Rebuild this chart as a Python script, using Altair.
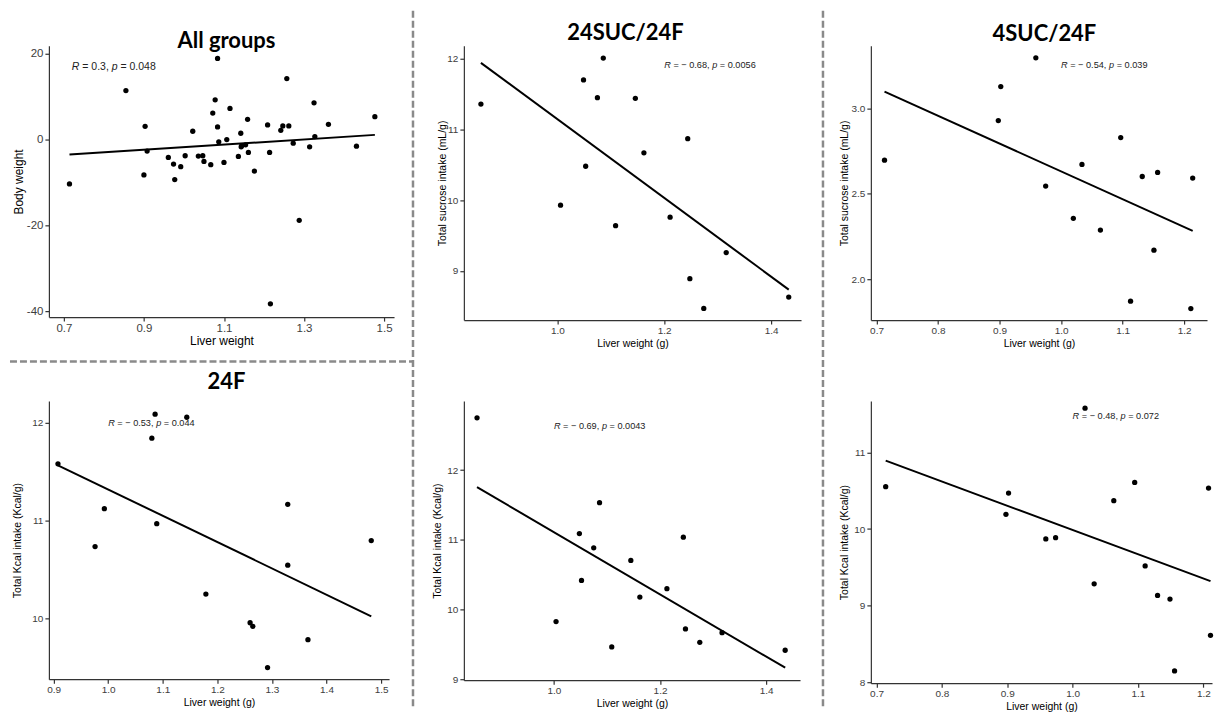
import altair as alt
import pandas as pd

FONT = "Liberation Sans"
TITLE_FONT = "Lato"

# ---------------- data ----------------
all_x = [0.714, 0.855, 0.903, 0.900, 0.908, 0.961, 0.974, 0.977, 0.992, 1.003, 1.022, 1.036, 1.047,
         1.050, 1.067, 1.072, 1.078, 1.084, 1.084, 1.087, 1.100, 1.107, 1.115, 1.136, 1.142, 1.143,
         1.144, 1.154, 1.159, 1.161, 1.176, 1.209, 1.214, 1.216, 1.242, 1.247, 1.257, 1.262, 1.273,
         1.288, 1.314, 1.325, 1.327, 1.361, 1.431, 1.477]
all_y = [-10.35, 11.43, 3.09, -8.26, -2.70, -4.17, -5.71, -9.34, -6.33, -3.78, 1.93, -3.86, -3.78,
         -5.10, -5.87, 6.18, 9.27, 18.92, 2.93, -0.54, -5.33, 0.00, 7.26, -3.94, 1.47, -1.70,
         -1.47, -1.24, 4.71, -3.01, -7.34, 3.40, -3.01, -38.30, 2.16, 3.17, 14.21, 3.17, -0.85,
         -18.84, -1.70, 8.57, 0.69, 3.55, -1.54, 5.33]

suc24_x = [0.857, 1.006, 1.049, 1.053, 1.075, 1.086, 1.109, 1.146, 1.162, 1.211, 1.244, 1.248, 1.274, 1.316, 1.433]
suc24_y = [11.36, 9.93, 11.70, 10.48, 11.45, 12.01, 9.64, 11.44, 10.67, 9.76, 10.87, 8.89, 8.47, 9.26, 8.63]

suc4_x = [0.713, 0.898, 0.902, 0.959, 0.975, 1.020, 1.034, 1.064, 1.097, 1.113, 1.132, 1.151, 1.157, 1.211, 1.214]
suc4_y = [2.698, 2.930, 3.129, 3.298, 2.546, 2.357, 2.673, 2.288, 2.830, 1.871, 2.602, 2.170, 2.626, 1.828, 2.593]

f24_x = [0.908, 0.976, 0.993, 1.080, 1.086, 1.089, 1.144, 1.179, 1.260, 1.265, 1.292, 1.329, 1.329, 1.366, 1.482]
f24_y = [11.578, 10.731, 11.119, 11.840, 12.085, 10.966, 12.054, 10.245, 9.952, 9.915, 9.493, 10.541, 11.163, 9.779, 10.793]

kcal24_x = [0.855, 1.004, 1.048, 1.052, 1.075, 1.086, 1.109, 1.145, 1.162, 1.213, 1.244, 1.248, 1.275, 1.317, 1.436]
kcal24_y = [12.748, 9.829, 11.090, 10.419, 10.886, 11.533, 9.467, 10.705, 10.181, 10.300, 11.038, 9.724, 9.533, 9.671, 9.419]

kcal4_x = [0.714, 0.898, 0.902, 0.959, 0.974, 1.019, 1.033, 1.063, 1.095, 1.111, 1.130, 1.149, 1.156, 1.208, 1.211]
kcal4_y = [10.553, 10.192, 10.470, 9.871, 9.888, 11.578, 9.285, 10.370, 10.609, 9.519, 9.133, 9.085, 8.147, 10.535, 8.612]

panel_titles = ["All groups", "24SUC/24F", "4SUC/24F", "24F", "", ""]
r_values = ["0.3", "\u2212 0.68", "\u2212 0.54", "\u2212 0.53", "\u2212 0.69", "\u2212 0.48"]
p_values = ["0.048", "0.0056", "0.039", "0.044", "0.0043", "0.072"]
label_pos = [(0.72, 17.0), (1.2, 11.91), (1.0, 3.256), (1.0, 12.0), (1.0, 12.63), (1.0, 11.47)]

x_titles = ["Liver weight", "Liver weight (g)", "Liver weight (g)", "Liver weight (g)", "Liver weight (g)", "Liver weight (g)"]
y_titles = ["Body weight", "Total sucrose intake (mL/g)", "Total sucrose intake (mL/g)",
            "Total Kcal intake (Kcal/g)", "Total Kcal intake (Kcal/g)", "Total Kcal intake (Kcal/g)"]

x_ticks = [[0.7, 0.9, 1.1, 1.3, 1.5], [1.0, 1.2, 1.4], [0.7, 0.8, 0.9, 1.0, 1.1, 1.2],
           [0.9, 1.0, 1.1, 1.2, 1.3, 1.4, 1.5], [1.0, 1.2, 1.4], [0.7, 0.8, 0.9, 1.0, 1.1, 1.2]]
y_ticks = [[-40, -20, 0, 20], [9, 10, 11, 12], [2.0, 2.5, 3.0], [10, 11, 12], [9, 10, 11, 12], [8, 9, 10, 11]]
y_formats = ["d", "d", ".1f", "d", "d", "d"]

x_domains = [[0.6626, 1.5249], [0.8251, 1.4560], [0.6908, 1.2373], [0.8914, 1.5146], [0.8302, 1.4640], [0.6913, 1.2133]]
y_domains = [[-41.40, 21.86], [8.3047, 12.1834], [1.7602, 3.3684], [9.3745, 12.2214], [8.99, 12.99], [7.9871, 11.6734]]

# ---------------- layout / style ----------------
sizes = [(346, 272), (338, 275), (337, 275), (341, 279), (337, 280), (342, 283)]
label_fs = [11.5, 10, 10, 10, 10, 10]
title_fs = [12, 10.5, 10.5, 10.5, 10.5, 10.5]
annot_fs = [10.5, 9.2, 9.2, 9.2, 9.2, 9.2]
ytitle_x = [-30, -21, -26, -31, -26, -26]
title_xy = [(178, -5), (162, -13), (174, -12), (178, -19), (0, 0), (0, 0)]

WIDTHS = {'R': .722, ' ': .278, '=': .584, '.': .278, ',': .278, 'p': .556, '\u2212': .584}
for d in "0123456789":
    WIDTHS[d] = .556


def tw(s, size):
    return sum(WIDTHS.get(c, .556) for c in s) * size


def annotation(pos, r, p, size):
    df = pd.DataFrame({"x": [pos[0]], "y": [pos[1]]})
    full = [("R", "italic"), (" ", None), ("= " + r + ",", "normal"), (" ", None),
            ("p", "italic"), (" ", None), ("= " + p, "normal")]
    layers = []
    off = 0.0
    for s, style in full:
        if style is not None:
            layers.append(
                alt.Chart(df).mark_text(text=s, align="left", baseline="middle", dx=off,
                                        fontStyle=style, font=FONT, fontSize=size, color="#222222")
                .encode(x="x:Q", y="y:Q"))
        off += tw(s, size)
    return layers


def panel(i, xs, ys):
    w, h = sizes[i]
    df = pd.DataFrame({"x": xs, "y": ys})
    xenc = alt.X("x:Q",
                 scale=alt.Scale(domain=x_domains[i], nice=False, zero=False),
                 axis=alt.Axis(values=x_ticks[i], format=".1f", title=x_titles[i], grid=False,
                               tickSize=4, labelPadding=1, labelFontSize=label_fs[i],
                               titleFontSize=title_fs[i], titleY=23, titleBaseline="middle"))
    yenc = alt.Y("y:Q",
                 scale=alt.Scale(domain=y_domains[i], nice=False, zero=False),
                 axis=alt.Axis(values=y_ticks[i], format=y_formats[i], title=y_titles[i], grid=False,
                               tickSize=4, labelPadding=2, labelFontSize=label_fs[i],
                               labelExpr="replace(datum.label, '\u2212', '-')",
                               titleFontSize=title_fs[i], titleX=ytitle_x[i], titleBaseline="middle"))
    pts = alt.Chart(df).mark_circle(size=28, color="black", opacity=1).encode(x=xenc, y=yenc)
    line = alt.Chart(df).transform_regression("x", "y").mark_line(color="black", strokeWidth=2).encode(
        x="x:Q", y="y:Q")
    layers = [line, pts] + annotation(label_pos[i], r_values[i], p_values[i], annot_fs[i])
    if panel_titles[i]:
        tx, ty = title_xy[i]
        layers.append(
            alt.Chart(pd.DataFrame({"t": [panel_titles[i]]})).mark_text(
                font=TITLE_FONT, fontSize=22, fontWeight="bold", align="center", baseline="middle",
                color="black").encode(text="t:N", x=alt.value(tx), y=alt.value(ty)))
    return layers, (w, h)


one = pd.DataFrame({"k": [0]})
dash = dict(color="#8a8a8a", strokeWidth=2.5, strokeDash=[7, 3])

charts = []
for i, (xs, ys) in enumerate([(all_x, all_y), (suc24_x, suc24_y), (suc4_x, suc4_y),
                              (f24_x, f24_y), (kcal24_x, kcal24_y), (kcal4_x, kcal4_y)]):
    layers, (w, h) = panel(i, xs, ys)
    if i == 0:
        layers.append(alt.Chart(one).mark_rule(**dash).encode(
            x=alt.value(-39), x2=alt.value(365), y=alt.value(316.5)))
    if i == 1:
        layers.append(alt.Chart(one).mark_rule(**dash).encode(
            x=alt.value(-51), y=alt.value(-35), y2=alt.value(663)))
    if i == 2:
        layers.append(alt.Chart(one).mark_rule(**dash).encode(
            x=alt.value(-48), y=alt.value(-35), y2=alt.value(663)))
    charts.append(alt.layer(*layers).properties(width=w, height=h))

chart = alt.ConcatChart(
    concat=charts, columns=3, bounds="flush", align="each",
    spacing={"row": 81, "column": 70},
).properties(padding=0).configure_view(stroke=None).configure_axis(
    labelFont=FONT, titleFont=FONT, labelColor="#3d3d3d", titleColor="black",
    titleFontWeight="normal", domainColor="#333333", tickColor="#333333",
    domainWidth=1.2, tickWidth=1.2)

chart.save("out.html", embed_options={"renderer": "svg", "actions": False})
